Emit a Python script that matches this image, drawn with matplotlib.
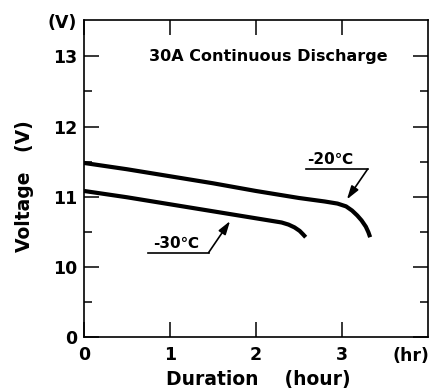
import numpy as np
import matplotlib
matplotlib.use("Agg")
import matplotlib.pyplot as plt

# discharge curves (hours, volts)
t_20 = [0, 0.5, 1.0, 1.5, 2.0, 2.5, 2.8, 2.95, 3.05, 3.12, 3.18, 3.23, 3.28, 3.31, 3.33]
v_20 = [11.48, 11.39, 11.29, 11.19, 11.08, 10.98, 10.93, 10.90, 10.86, 10.80, 10.73, 10.66, 10.57, 10.49, 10.42]
t_30 = [0, 0.5, 1.0, 1.5, 2.0, 2.2, 2.3, 2.38, 2.45, 2.51, 2.55, 2.58]
v_30 = [11.08, 10.99, 10.89, 10.79, 10.69, 10.65, 10.63, 10.60, 10.56, 10.51, 10.46, 10.42]

x_ticks = [0, 1, 2, 3]
y_ticks = [0, 10, 11, 12, 13]
y_minor = [5, 10.5, 11.5, 12.5]

plt.rcParams['font.family'] = ['DejaVu Sans', 'Noto Sans CJK JP']
plt.rcParams['font.weight'] = 'bold'


# broken voltage axis: 0..10 squeezed into one unit, then 1 V per unit
def fwd(v):
    v = np.asarray(v, dtype=float)
    return np.where(v < 10, v / 10.0, v - 9.0)


def inv(d):
    d = np.asarray(d, dtype=float)
    return np.where(d < 1, d * 10.0, d + 9.0)


fig = plt.figure(figsize=(4.34, 3.9), dpi=100)
ax = fig.add_axes([0.1935, 0.1367, 0.792, 0.812])

ax.plot(t_20, v_20, color='black', lw=3, solid_capstyle='butt', solid_joinstyle='round')
ax.plot(t_30, v_30, color='black', lw=3, solid_capstyle='butt', solid_joinstyle='round')

ax.set_yscale('function', functions=(fwd, inv))
ax.set_xlim(0, 4)
ax.set_ylim(0, 13.52)

ax.set_xticks(x_ticks)
ax.set_xticklabels([str(t) for t in x_ticks])
ax.set_yticks(y_ticks)
ax.set_yticklabels([str(t) for t in y_ticks])
ax.set_yticks(y_minor, minor=True)
ax.set_xticks([], minor=True)

ax.tick_params(axis='both', which='major', direction='in', length=11, width=1.1,
               labelsize=12.5, top=True, right=True)
ax.tick_params(axis='y', which='minor', direction='in', length=6, width=1.1,
               right=True, left=True)
ax.tick_params(axis='x', pad=7)
ax.tick_params(axis='y', pad=5)
for s in ax.spines.values():
    s.set_linewidth(1.2)

# labels
fig.text(62.5 / 434, 1 - 22.5 / 390, '(V)', fontsize=12.5, ha='center', va='center')
fig.text(411 / 434, 1 - 356 / 390, '(hr)', fontsize=12.5, ha='center', va='center')
fig.text(25 / 434, 1 - 186 / 390, 'Voltage   (V)', fontsize=13.5, rotation=90,
         ha='center', va='center')
fig.text(258 / 434, 1 - 380 / 390, 'Duration    (hour)', fontsize=13.5,
         ha='center', va='center')
ax.text(0.537, 0.885, '30A Continuous Discharge', transform=ax.transAxes,
        fontsize=11.5, ha='center', va='center')

# temperature callouts
ax.plot([2.58, 3.30], [11.39, 11.39], color='black', lw=1.2)
ax.text(2.87, 11.42, '-20℃', fontsize=11, ha='center', va='bottom')
ax.annotate('', xy=(3.06, 10.96), xytext=(3.30, 11.39),
            arrowprops=dict(arrowstyle='-|>,head_length=0.8,head_width=0.25',
                            color='black', lw=1.2, shrinkA=0, shrinkB=0))

ax.plot([0.75, 1.45], [10.20, 10.20], color='black', lw=1.2)
ax.text(1.07, 10.23, '-30℃', fontsize=11, ha='center', va='bottom')
ax.annotate('', xy=(1.70, 10.65), xytext=(1.45, 10.20),
            arrowprops=dict(arrowstyle='-|>,head_length=0.8,head_width=0.25',
                            color='black', lw=1.2, shrinkA=0, shrinkB=0))

fig.savefig('out.png', dpi=100)
